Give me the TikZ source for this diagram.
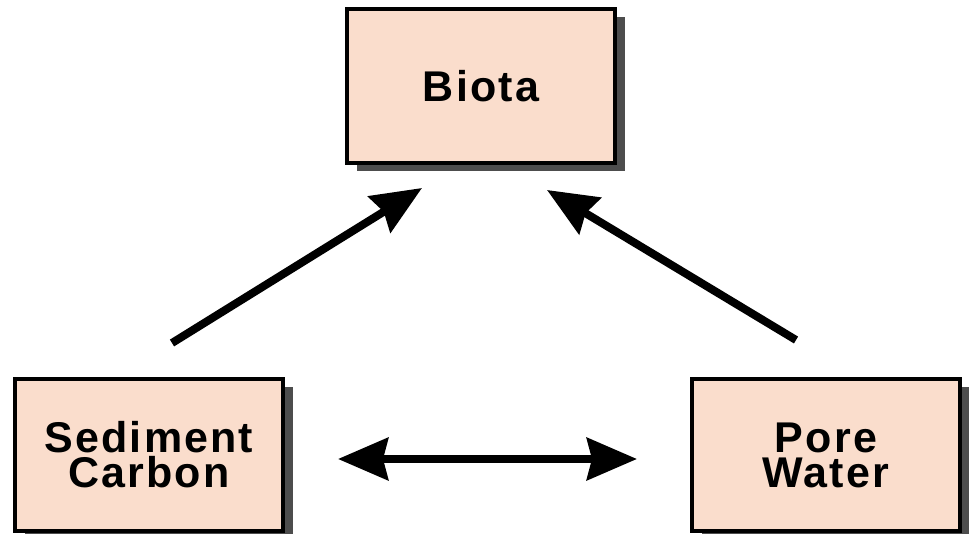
\documentclass[tikz,border=0pt]{standalone}
\usepackage{fontspec}
\setmainfont{Liberation Sans}[LetterSpace=5]
\usetikzlibrary{arrows.meta,shadows}
\definecolor{peach}{HTML}{FADDCC}
\definecolor{shadowgray}{HTML}{4D4D4D}
\begin{document}
\begin{tikzpicture}[x=1pt,y=-1pt,
  box/.style={draw=black, line width=4pt, fill=peach,
    minimum width=268pt, minimum height=152pt, inner sep=0pt,
    align=center, font=\fontsize{43pt}{35pt}\selectfont\bfseries,
    general shadow={fill=shadowgray, shadow xshift=10pt, shadow yshift=-8pt}},
  bigarrow/.style={line width=8pt, -{Stealth[length=50pt,width=42pt,inset=5pt]}},
  dblarrow/.style={line width=8pt, {Stealth[length=50pt,width=42pt,inset=5pt]}-{Stealth[length=50pt,width=42pt,inset=5pt]}}]
\useasboundingbox (0,0) rectangle (969,534);
\node[box, minimum height=154pt] (biota) at (481,86) {\raisebox{-4pt}{Biota}};
\node[box] (sed) at (149,455) {Sediment\\Carbon};
\node[box] (pore) at (826,455) {Pore\\Water};
\coordinate (l1) at (172,343);
\coordinate (l2) at (422,188);
\coordinate (r1) at (796,340);
\coordinate (r2) at (547,190);
\coordinate (h1) at (338,459);
\coordinate (h2) at (637,459);
\draw[bigarrow] (l1) -- (l2);
\draw[bigarrow] (r1) -- (r2);
\draw[dblarrow] (h1) -- (h2);
\end{tikzpicture}
\end{document}
